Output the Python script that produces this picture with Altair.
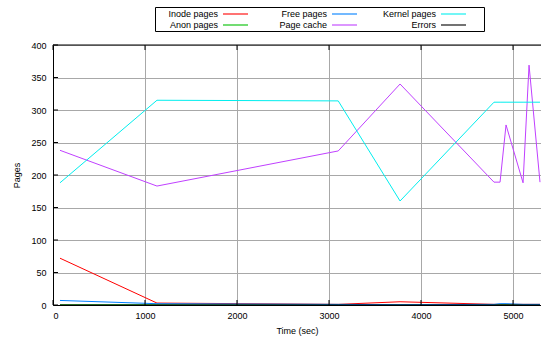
import altair as alt
import pandas as pd

# ---- data ----
times = [76, 1130, 3100, 3772, 4793, 4859, 4924, 5109, 5174, 5293]
inode_pages = [72, 3, 1, 5, 1, 1, 1, 1, 1, 1]
free_pages = [7, 2, 1, 0.5, 1, 2, 2, 1, 1, 1]
kernel_pages = [188, 315, 314, 160, 312, 312, 312, 312, 312, 312]
anon_pages = [0.3, 0.3, 0.3, 0.3, 0.3, 0.3, 0.3, 0.3, 0.3, 0.3]
page_cache = [238, 183, 237, 340, 189, 189, 277, 188, 369, 189]
errors = [0, 0, 0, 0, 0, 0, 0, 0, 0, 0]

series_names = ["Inode pages", "Anon pages", "Free pages",
                "Page cache", "Kernel pages", "Errors"]
series_colors = ["#ff0000", "#00c000", "#0080ff",
                 "#c040ff", "#00eeee", "#000000"]
series_values = [inode_pages, anon_pages, free_pages,
                 page_cache, kernel_pages, errors]

x_ticks = [0, 1000, 2000, 3000, 4000, 5000]
y_ticks = [0, 50, 100, 150, 200, 250, 300, 350, 400]

rows = []
for name, vals in zip(series_names, series_values):
    for t, v in zip(times, vals):
        rows.append({"time": t, "pages": v, "series": name})
df = pd.DataFrame(rows)

FONT = "Liberation Sans"
W, H = 488, 260

x_scale = alt.Scale(domain=[0, 5304], nice=False, zero=False)
y_scale = alt.Scale(domain=[0, 400], nice=False)
x_axis = alt.Axis(values=x_ticks, title="Time (sec)", format="d",
                  grid=True, gridColor="#a8a8a8", gridWidth=1,
                  ticks=False, labelPadding=6, titlePadding=6,
                  domainColor="black", domainWidth=1)
y_axis = alt.Axis(values=y_ticks, title="Pages", grid=True,
                  gridColor="#a8a8a8", gridWidth=1, ticks=False,
                  labelPadding=7, titlePadding=9,
                  domainColor="black", domainWidth=1)

# legend sample: a 25px line (size 100 -> r=5), plus an invisible
# move-to that widens each entry's box to gnuplot's key width
KEY_SYMBOL = "M-2.5,0H2.5M5.3,0"

lines = alt.Chart(df).mark_line(strokeWidth=1, clip=True).encode(
    x=alt.X("time:Q", scale=x_scale, axis=x_axis),
    y=alt.Y("pages:Q", scale=y_scale, axis=y_axis),
    color=alt.Color("series:N",
                    scale=alt.Scale(domain=series_names, range=series_colors),
                    legend=alt.Legend(
                        orient="none", legendX=102, legendY=-38,
                        columns=3, title=None, symbolType=KEY_SYMBOL,
                        symbolSize=100, symbolStrokeWidth=1.1,
                        labelAlign="right", labelOffset={"expr": "-23.5"},
                        symbolOffset=73.5, gridAlign="all",
                        columnPadding={"expr": "-7"}, rowPadding=0,
                        strokeColor="black", padding=1,
                        labelFont=FONT, labelFontSize=9,
                        labelColor="black")),
)

ytick_df = pd.DataFrame({"pages": y_ticks})
xtick_df = pd.DataFrame({"time": x_ticks})
top_df = pd.DataFrame({"pages": [400]})

yticks = alt.Chart(ytick_df).mark_rule(color="black", strokeWidth=1).encode(
    y=alt.Y("pages:Q", scale=y_scale, axis=y_axis), x=alt.value(0), x2=alt.value(5))
xticks_bottom = alt.Chart(xtick_df).mark_rule(color="black", strokeWidth=1).encode(
    x=alt.X("time:Q", scale=x_scale, axis=x_axis), y=alt.value(H), y2=alt.value(H - 5))
xticks_top = alt.Chart(xtick_df).mark_rule(color="black", strokeWidth=1).encode(
    x=alt.X("time:Q", scale=x_scale, axis=x_axis), y=alt.value(0), y2=alt.value(5))
top_border = alt.Chart(top_df).mark_rule(color="black", strokeWidth=1).encode(
    y=alt.Y("pages:Q", scale=y_scale, axis=y_axis))

chart = alt.layer(lines, yticks, xticks_bottom, xticks_top, top_border).properties(
    width=W, height=H,
    autosize=alt.AutoSizeParams(type="none"),
    padding={"left": 53, "top": 45, "right": 0, "bottom": 37},
    background="white",
).configure_view(stroke=None).configure_axis(
    labelFont=FONT, labelFontSize=9, labelColor="black",
    titleFont=FONT, titleFontSize=9, titleColor="black",
    titleFontWeight="normal",
)

chart.save("out.html", embed_options={"renderer": "svg", "actions": False})
